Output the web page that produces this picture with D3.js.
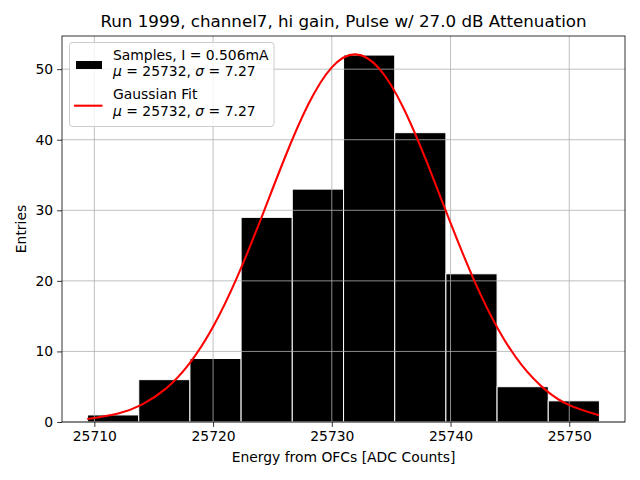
<!DOCTYPE html>
<html><head><meta charset="utf-8">
<script src="https://cdn.jsdelivr.net/npm/d3@7"></script>
<style>body{margin:0;background:#fff}svg{display:block}text{font-family:"DejaVu Sans",sans-serif}</style>
</head><body><svg id="c" width="640" height="480"></svg>
<script>
const binEdges = [25709.43, 25713.74, 25718.05, 25722.36, 25726.67, 25730.99, 25735.30, 25739.61, 25743.92, 25748.23, 25752.54];
const counts = [1, 6, 9, 29, 33, 52, 41, 21, 5, 3];
const fitX = [25709.4, 25712, 25714, 25716, 25718, 25720, 25722, 25724, 25726, 25728, 25730, 25732, 25734, 25736, 25738, 25740, 25742, 25744, 25746, 25748, 25750, 25752.5];
const fitY = [0.42, 1.21, 2.47, 4.69, 8.27, 13.49, 20.42, 28.65, 37.27, 44.95, 50.26, 52.1, 50.07, 44.61, 36.85, 28.22, 20.04, 13.19, 8.05, 4.55, 2.39, 0.96];
const xTicks = [25710, 25720, 25730, 25740, 25750];
const yTicks = [0, 10, 20, 30, 40, 50];
const title = "Run 1999, channel7, hi gain, Pulse w/ 27.0 dB Attenuation";
const xLabel = "Energy from OFCs [ADC Counts]";
const yLabel = "Entries";

const svg = d3.select("#c");
const L = 62, R = 625, T = 36, B = 422;
const span = binEdges[binEdges.length-1] - binEdges[0];
const x = d3.scaleLinear().domain([binEdges[0] - 0.05*span, binEdges[binEdges.length-1] + 0.05*span]).range([L, R]);
const y = d3.scaleLinear().domain([0, 54.7]).range([B, T]);

// bars
const bars = counts.map((c, i) => ({x0: binEdges[i], x1: binEdges[i+1], c}));
svg.append("g").selectAll("rect").data(bars).join("rect")
  .attr("x", d => x(d.x0)).attr("width", d => x(d.x1) - x(d.x0))
  .attr("y", d => y(d.c)).attr("height", d => y(0) - y(d.c))
  .attr("fill", "#000").attr("stroke", "#fff").attr("stroke-width", 1);

// grid (above patches)
const grid = svg.append("g").attr("stroke", "#b0b0b0").attr("stroke-width", 0.8);
xTicks.forEach(t => grid.append("line").attr("x1", x(t)).attr("x2", x(t)).attr("y1", T).attr("y2", B));
yTicks.forEach(t => grid.append("line").attr("x1", L).attr("x2", R).attr("y1", y(t)).attr("y2", y(t)));

// fit line
const pts = fitX.map((v, i) => [v, fitY[i]]);
svg.append("path").datum(pts)
  .attr("d", d3.line().x(d => x(d[0])).y(d => y(d[1])).curve(d3.curveNatural))
  .attr("fill", "none").attr("stroke", "red").attr("stroke-width", 2.08);

// axes
const xa = svg.append("g").attr("transform", `translate(0,${B})`)
  .call(d3.axisBottom(x).tickValues(xTicks).tickFormat(d3.format("d")).tickSizeOuter(0).tickSize(4.9).tickPadding(4));
const ya = svg.append("g").attr("transform", `translate(${L},0)`)
  .call(d3.axisLeft(y).tickValues(yTicks).tickFormat(d3.format("d")).tickSizeOuter(0).tickSize(4.9).tickPadding(4));
[xa, ya].forEach(a => {
  a.select(".domain").remove();
  a.selectAll("line").attr("stroke", "#000").attr("stroke-width", 0.8);
  a.selectAll("text").attr("font-size", 13.9).attr("fill", "#000").attr("font-family", "DejaVu Sans");
});
svg.append("rect").attr("x", L).attr("y", T).attr("width", R - L).attr("height", B - T)
  .attr("fill", "none").attr("stroke", "#000").attr("stroke-width", 0.8);

// labels
svg.append("text").attr("x", (L+R)/2).attr("y", 27).attr("text-anchor", "middle").attr("font-size", 16.7).text(title);
svg.append("text").attr("x", (L+R)/2).attr("y", 462).attr("text-anchor", "middle").attr("font-size", 13.9).text(xLabel);
svg.append("text").attr("transform", `translate(26,${(T+B)/2}) rotate(-90)`).attr("text-anchor", "middle").attr("font-size", 13.9).text(yLabel);

// legend
const lg = svg.append("g");
lg.append("rect").attr("x", 69.5).attr("y", 42.5).attr("width", 204.5).attr("height", 84).attr("rx", 3)
  .attr("fill", "#fff").attr("fill-opacity", 0.8).attr("stroke", "#cccccc").attr("stroke-width", 1);
lg.append("rect").attr("x", 76).attr("y", 61).attr("width", 26).attr("height", 8).attr("fill", "#000");
lg.append("line").attr("x1", 74).attr("x2", 102.5).attr("y1", 105.7).attr("y2", 105.7).attr("stroke", "red").attr("stroke-width", 2.08);
const entries = [
  {y1: 59.5, l1: "Samples, I = 0.506mA", y2: 76},
  {y1: 99, l1: "Gaussian Fit", y2: 115.5}
];
entries.forEach(e => {
  lg.append("text").attr("x", 113).attr("y", e.y1).attr("font-size", 13.9).text(e.l1);
  const t = lg.append("text").attr("x", 113).attr("y", e.y2).attr("font-size", 13.9);
  t.append("tspan").attr("font-style", "italic").text("μ");
  t.append("tspan").text(" = 25732, ");
  t.append("tspan").attr("font-style", "italic").text("σ");
  t.append("tspan").text(" = 7.27");
});
</script></body></html>
